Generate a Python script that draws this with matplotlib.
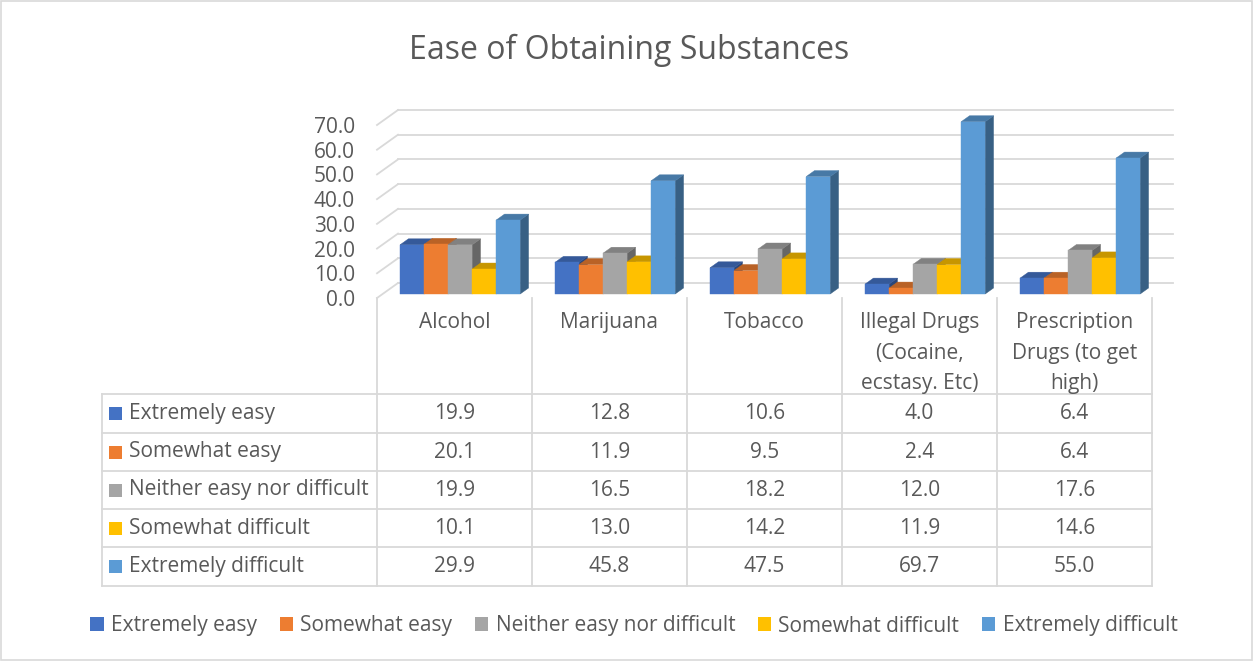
import matplotlib
matplotlib.use("Agg")
import matplotlib.pyplot as plt
import matplotlib.transforms as mtransforms
from matplotlib.patches import Polygon, Rectangle, Patch
from matplotlib.colors import to_rgb

plt.rcParams["font.family"] = ["Open Sans", "DejaVu Sans"]

# ── data ────────────────────────────────────────────────────────────────
categories = [
    "Alcohol", "Marijuana", "Tobacco",
    "Illegal Drugs\n(Cocaine,\necstasy. Etc)",
    "Prescription\nDrugs (to get\nhigh)",
]
series_names = [
    "Extremely easy", "Somewhat easy", "Neither easy nor difficult",
    "Somewhat difficult", "Extremely difficult",
]
extremely_easy = [19.9, 12.8, 10.6, 4.0, 6.4]
somewhat_easy = [20.1, 11.9, 9.5, 2.4, 6.4]
neither = [19.9, 16.5, 18.2, 12.0, 17.6]
somewhat_difficult = [10.1, 13.0, 14.2, 11.9, 14.6]
extremely_difficult = [29.9, 45.8, 47.5, 69.7, 55.0]
series_values = [extremely_easy, somewhat_easy, neither, somewhat_difficult, extremely_difficult]
y_ticks = [0, 10, 20, 30, 40, 50, 60, 70]

colors = ["#4472C4", "#ED7D31", "#A5A5A5", "#FFC000", "#5B9BD5"]
TEXT = "#595959"
GRID = "#D9D9D9"
FS = 15


def shade(c, f):
    r, g, b = to_rgb(c)
    return (r * f, g * f, b * f)


W, H = 1254, 662
fig = plt.figure(figsize=(W / 100, H / 100), dpi=100)

# overlay in pixel units for title / table / legend layout
ov = fig.add_axes([0, 0, 1, 1], zorder=0)
ov.set_xlim(0, W)
ov.set_ylim(H, 0)
ov.axis("off")

# chart axes = front plane of the 3D plot area
ax = fig.add_axes([377 / W, (H - 298) / H, 775 / W, 173 / H], zorder=1)
n_cat = len(categories)
ax.set_xlim(0, n_cat)
ax.set_ylim(0, 70)
ax.patch.set_visible(False)
for s in ax.spines.values():
    s.set_visible(False)
ax.set_xticks([])
ax.set_yticks(y_ticks)
ax.set_yticklabels([f"{v:.1f}" for v in y_ticks], fontsize=FS, color=TEXT)
ax.tick_params(axis="y", length=0, pad=16)

# depth vector of the floor in data units (21 px right, 15 px up)
DX = 21 / 775 * n_cat
DY = 15 / (173 / 70)

# ── walls / gridlines ───────────────────────────────────────────────────
for v in y_ticks:
    ax.plot([0, DX], [v, v + DY], color=GRID, lw=1.3, clip_on=False, zorder=1)
    ax.plot([DX, n_cat + DX], [v + DY, v + DY], color=GRID, lw=1.3, clip_on=False, zorder=1)

# ── 3D bars ─────────────────────────────────────────────────────────────
bw = 0.155
gap = (1 - len(series_values) * bw) / 2
f0, f1 = 0.267, 0.667
ddx, ddy = (f1 - f0) * DX, (f1 - f0) * DY
for i in range(n_cat):
    for j, vals in enumerate(series_values):
        v = vals[i]
        c = colors[j]
        x0 = i + gap + j * bw + f0 * DX
        y0 = f0 * DY
        side = Polygon([(x0 + bw, y0), (x0 + bw + ddx, y0 + ddy),
                        (x0 + bw + ddx, y0 + v + ddy), (x0 + bw, y0 + v)],
                       closed=True, facecolor=shade(c, 0.62), edgecolor=shade(c, 0.62),
                       lw=0.3, clip_on=False, zorder=3)
        top = Polygon([(x0, y0 + v), (x0 + bw, y0 + v),
                       (x0 + bw + ddx, y0 + v + ddy), (x0 + ddx, y0 + v + ddy)],
                      closed=True, facecolor=shade(c, 0.78), edgecolor=shade(c, 0.78),
                      lw=0.3, clip_on=False, zorder=3)
        front = Rectangle((x0, y0), bw, v, facecolor=c, edgecolor=c, lw=0.3,
                          clip_on=False, zorder=3)
        ax.add_patch(side)
        ax.add_patch(top)
        ax.add_patch(front)

# ── title ───────────────────────────────────────────────────────────────
ov.text(629, 59, "Ease of Obtaining Substances", fontsize=23, color=TEXT,
        ha="center", va="baseline")

# ── data table ──────────────────────────────────────────────────────────
blend = mtransforms.blended_transform_factory(ax.transData, ov.transData)
table_left = 102
row_edges = [394, 433, 471, 509, 547, 586]

for k in range(n_cat + 1):
    ov.plot([k, k], [298, row_edges[-1]], color=GRID, lw=1.3, transform=blend)
ov.plot([table_left, table_left], [row_edges[0], row_edges[-1]], color=GRID, lw=1.3)
for yy in row_edges:
    ov.plot([table_left, 377], [yy, yy], color=GRID, lw=1.3)
    ov.plot([0, n_cat], [yy, yy], color=GRID, lw=1.3, transform=blend)

for i, cat in enumerate(categories):
    for k, line in enumerate(cat.split("\n")):
        ov.text(i + 0.5, 328 + 30.5 * k, line, fontsize=FS, color=TEXT,
                ha="center", va="baseline", transform=blend)

for j, (name, vals) in enumerate(zip(series_names, series_values)):
    yc = (row_edges[j] + row_edges[j + 1]) / 2
    ov.add_patch(Rectangle((109, yc - 6.5), 13, 13, facecolor=colors[j], edgecolor="none"))
    ov.text(129, yc, name, fontsize=FS, color=TEXT, ha="left", va="center")
    for i, v in enumerate(vals):
        ov.text(i + 0.5, yc, f"{v:.1f}", fontsize=FS, color=TEXT,
                ha="center", va="center", transform=blend)

# ── legend ──────────────────────────────────────────────────────────────
handles = [Patch(facecolor=c, edgecolor="none") for c in colors]
fig.legend(handles, series_names, ncol=5, loc="center",
           bbox_to_anchor=(634 / W, 1 - 626 / H), frameon=False, fontsize=FS,
           handlelength=0.63, handleheight=0.63, handletextpad=0.35,
           columnspacing=1.1, labelcolor=TEXT)

# outer chart border
ov.add_patch(Rectangle((1, 1), W - 3, H - 3, facecolor="none", edgecolor=GRID, lw=1.2))

fig.savefig("out.png", dpi=100)
